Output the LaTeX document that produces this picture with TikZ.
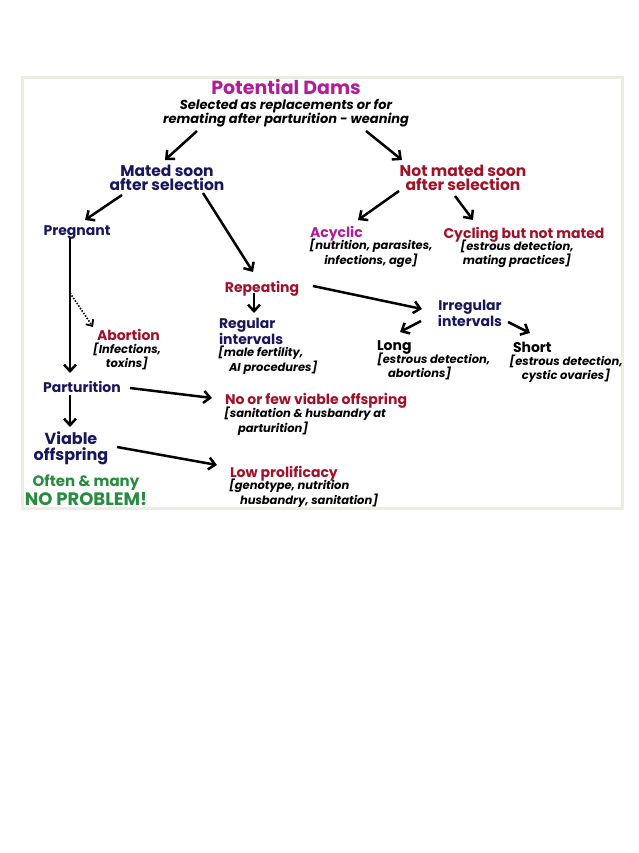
\documentclass[tikz,border=0pt]{standalone}
\usepackage{fontspec}
\setmainfont{Poppins}
\usetikzlibrary{arrows.meta}

\definecolor{dammag}{RGB}{176,30,150}
\definecolor{navy}{RGB}{24,22,92}
\definecolor{dred}{RGB}{160,18,40}
\definecolor{okgreen}{RGB}{40,140,62}
\definecolor{frame}{RGB}{236,236,226}

\tikzset{
  arr/.style={line width=2.5pt, -{Straight Barb[length=6.5pt,width=12pt]}},
  txt/.style={inner sep=0pt, outer sep=0pt},
  head/.style={txt, font=\fontsize{14}{14}\selectfont\bfseries},
  bighead/.style={txt, font=\fontsize{15.5}{14.5}\selectfont\bfseries},
  note/.style={txt, font=\fontsize{11.5}{11}\selectfont\bfseries\itshape},
}

\begin{document}
\begin{tikzpicture}[x=1pt, y=-1pt]
    \useasboundingbox (0,0) rectangle (639,853);
    \fill[white] (0,0) rectangle (639,853);
    \draw[frame, line width=3pt, fill=white] (22,78) rectangle (622,508);

    % top
    \node[txt, anchor=north, dammag, font=\fontsize{19}{20}\selectfont\bfseries] (dams) at (286,79) {Potential Dams};
    \node[txt, anchor=north, align=center, font=\fontsize{13}{14}\selectfont\bfseries\itshape] (sel) at (286,99)
        {Selected as replacements or for\\remating after parturition - weaning};
    \node[bighead, anchor=north, align=center, navy] (mated) at (167,165) {Mated soon\\after selection};
    \node[bighead, anchor=north, align=center, dred] (notmated) at (463,165) {Not mated soon\\after selection};

    % right branch
    \node[head, anchor=north west, dammag] (acyclic) at (310,226) {Acyclic};
    \node[note, anchor=north, align=center] (acynote) at (371,239) {[nutrition, parasites,\\infections, age]};
    \node[head, anchor=north, dred] (cycling) at (524,227) {Cycling but not mated};
    \node[note, anchor=north, align=center] (cycnote) at (517,240) {[estrous detection,\\mating practices]};

    % repeating
    \node[head, anchor=north, dred] (repeat) at (262,281) {Repeating};
    \node[head, anchor=north west, align=left, navy] (regular) at (219,318) {Regular\\intervals};
    \node[note, anchor=north west, align=left] (regnote) at (218,346) {[male fertility,\\\hspace*{11pt}AI procedures]};
    \node[head, anchor=north, align=center, navy] (irregular) at (470,300) {Irregular\\intervals};
    \node[head, anchor=north west] (long) at (377,341) {Long};
    \node[note, anchor=north west, align=left] (longnote) at (377,353) {[estrous detection,\\\hspace*{11pt}abortions]};
    \node[head, anchor=north west] (short) at (513,342) {Short};
    \node[note, anchor=north, align=center] (shortnote) at (566,355) {[estrous detection,\\cystic ovaries]};

    % pregnant branch
    \node[head, anchor=north, navy] (pregnant) at (77,226) {Pregnant};
    \node[head, anchor=north west, dred] (abortion) at (97,329) {Abortion};
    \node[note, anchor=north, align=center] (abnote) at (127,343) {[Infections,\\toxins]};
    \node[head, anchor=north, navy] (partur) at (82,381) {Parturition};
    \node[head, anchor=north west, dred] (nofew) at (225,393) {No or few viable offspring};
    \node[note, anchor=north west, align=left] (nfnote) at (224,407) {[sanitation \& husbandry at\\\hspace*{14pt}parturition]};
    \node[txt, anchor=north, align=center, navy, font=\fontsize{16}{16}\selectfont\bfseries] (viable) at (71,432) {Viable\\offspring};
    \node[head, anchor=north west, dred] (low) at (230,466) {Low prolificacy};
    \node[note, anchor=north west, align=left] (lownote) at (229,479) {[genotype, nutrition\\\hspace*{11pt}husbandry, sanitation]};
    \node[txt, anchor=north, okgreen, font=\fontsize{15}{15}\selectfont\bfseries] (often) at (86,475) {Often \& many};
    \node[txt, anchor=north, okgreen, font=\fontsize{18}{18}\selectfont\bfseries] (noprob) at (86,492) {NO PROBLEM!};

    % arrows
    \draw[arr] ([shift={(-89,32)}]sel.north) -- ([shift={(-2,-5)}]mated.north);
    \draw[arr] ([shift={(80,32)}]sel.north) -- ([shift={(-61,-5)}]notmated.north);
    \draw[arr] ([shift={(-45,30)}]mated.north) -- ([shift={(8,-6)}]pregnant.north);
    \draw[arr] ([shift={(36,28)}]mated.north) -- ([shift={(-9,-9)}]repeat.north);
    \draw[arr] ([shift={(-64,26)}]notmated.north) -- ([shift={(48,-6)}]acyclic.north west);
    \draw[arr] ([shift={(-8,31)}]notmated.north) -- ([shift={(-51,-7)}]cycling.north);
    \draw[arr] ([shift={(-8,12)}]repeat.north) -- ([shift={(35,-5)}]regular.north west);
    \draw[arr] ([shift={(51,5)}]repeat.north) -- ([shift={(-48,9)}]irregular.north);
    \draw[arr] ([shift={(-49,21)}]irregular.north) -- ([shift={(23,-9)}]long.north west);
    \draw[arr] ([shift={(38,22)}]irregular.north) -- ([shift={(17,-9)}]short.north west);

    \draw[arr] ([shift={(-7,12)}]pregnant.north) -- ([shift={(-12,-8)}]partur.north);
    \coordinate (fork) at (70,293);
    \draw[line width=1.6pt, dash pattern=on 1.5pt off 1.5pt, -{Straight Barb[length=5pt,width=9pt,line width=1.8pt]}]
        (fork) -- ([shift={(-4,-2)}]abortion.north west);
    \draw[arr] ([shift={(48,7)}]partur.north) -- ([shift={(-13,5)}]nofew.north west);
    \draw[arr] ([shift={(-12,14)}]partur.north) -- ([shift={(-1,-5)}]viable.north);
    \draw[arr] ([shift={(46,15)}]viable.north) -- ([shift={(-13,-1)}]low.north west);
\end{tikzpicture}
\end{document}
